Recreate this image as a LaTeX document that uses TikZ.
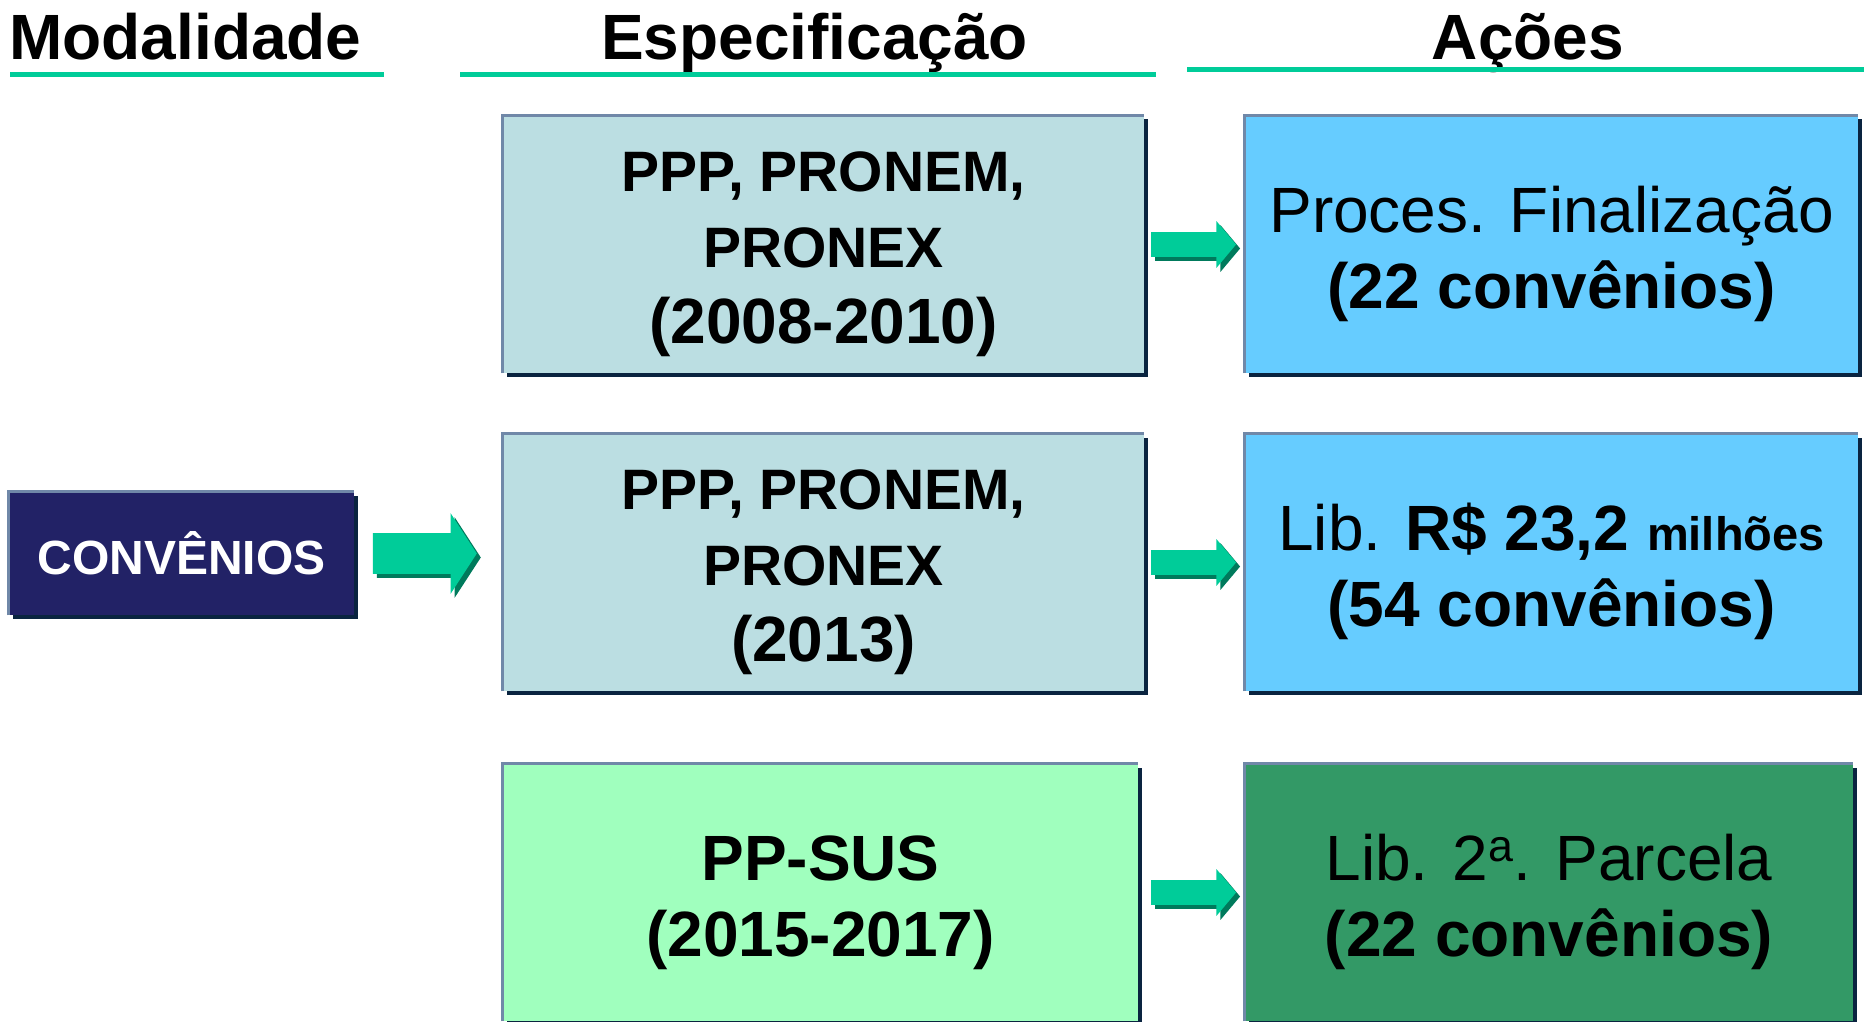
\documentclass[tikz,border=0pt]{standalone}
\usepackage{fontspec}
\setmainfont{Liberation Sans}
\usetikzlibrary{positioning,calc,shapes.arrows,shadows}

\definecolor{specblue}{RGB}{187,222,226}
\definecolor{actblue}{RGB}{102,204,255}
\definecolor{specgreen}{RGB}{160,255,190}
\definecolor{actgreen}{RGB}{51,153,102}
\definecolor{convnavy}{RGB}{34,34,102}
\definecolor{arrowgreen}{RGB}{0,204,153}
\definecolor{arrowshade}{RGB}{0,122,92}
\definecolor{edgegrey}{RGB}{112,136,168}
\definecolor{shadownavy}{RGB}{10,36,64}

\newcommand{\yearsize}{\fontsize{32}{38}\selectfont}

\tikzset{
  box/.style={rectangle, inner sep=0pt, minimum height=128.5pt,
    drop shadow={shadow xshift=1.75pt, shadow yshift=-1.75pt, fill=shadownavy, opacity=1}},
  edgeline/.style={draw=edgegrey, line width=1.5pt},
  heading/.style={font=\bfseries\fontsize{32}{38}\selectfont, inner sep=0pt},
  headrule/.style={draw=arrowgreen, line width=2.5pt},
  spectext/.style={font=\bfseries\fontsize{28.5}{38}\selectfont, align=center, inner sep=0pt},
  acttext/.style={font=\fontsize{32}{38}\selectfont, align=center, inner sep=0pt},
  blockarrow/.style={single arrow, fill=arrowgreen, inner xsep=0pt,
    drop shadow={shadow xshift=2pt, shadow yshift=-2pt, fill=arrowshade, opacity=1}},
  smallarrow/.style={blockarrow, anchor=tip, inner ysep=6pt, minimum height=42.5pt,
    minimum width=23pt, single arrow head extend=5.5pt, single arrow tip angle=100},
  bigarrow/.style={blockarrow, anchor=tail, inner ysep=10pt, minimum height=52pt,
    minimum width=40pt, single arrow head extend=10pt, single arrow tip angle=114}
}

\begin{document}
\begin{tikzpicture}[x=0.5pt,y=-0.5pt]
\useasboundingbox (0,0) rectangle (1864,1022);

% column headings
\node[heading, anchor=base west] (hmod) at (9,60) {Modalidade};
\node[heading, anchor=base] (hspec) at (814.5,60) {Especificação};
\node[heading, anchor=base] (hacoes) at (1528,60) {Ações};
\draw[headrule] (10,74.5) -- (384,74.5);
\draw[headrule] (460,74.5) -- (1156,74.5);
\draw[headrule] (1187,70) -- (1864,70);

% boxes
\node (conv) at (181.5,553.5) [box, fill=convnavy, minimum width=172.5pt, minimum height=61.5pt,
  text=white, font=\bfseries\fontsize{24}{28}\selectfont] {CONVÊNIOS};
\node (s1) at (823.5,244.5) [box, fill=specblue, minimum width=320.5pt] {};
\node (s2) at (823.5,562.5) [box, fill=specblue, minimum width=320.5pt] {};
\node (s3) at (820.5,892.5) [box, fill=specgreen, minimum width=317.5pt] {};
\node (a1) at (1551.5,244.5) [box, fill=actblue, minimum width=306.5pt] {};
\node (a2) at (1551.5,562.5) [box, fill=actblue, minimum width=306.5pt] {};
\node (a3) at (1549,892.5) [box, fill=actgreen, minimum width=304pt] {};

\draw[edgeline] (conv.south west) |- (conv.north east);
\draw[edgeline] (s1.south west) |- (s1.north east);
\draw[edgeline] (s2.south west) |- (s2.north east);
\draw[edgeline] (s3.south west) |- (s3.north east);
\draw[edgeline] (a1.south west) |- (a1.north east);
\draw[edgeline] (a2.south west) |- (a2.north east);
\draw[edgeline] (a3.south west) |- (a3.north east);

% texts
\node[spectext] (ts1) at ([yshift=-5pt]s1.center) {PPP, PRONEM,\\PRONEX\\{\yearsize(2008-2010)}};
\node[spectext] (ts2) at ([yshift=-5pt]s2.center) {PPP, PRONEM,\\PRONEX\\{\yearsize(2013)}};
\node[spectext] (ts3) at ([yshift=-5pt]s3.center) {{\yearsize PP-SUS}\\{\yearsize(2015-2017)}};
\node[acttext] (ta1) at ([yshift=-4.5pt]a1.center) {Proces. Finalização\\\textbf{(22 convênios)}};
\node[acttext] (ta2) at ([yshift=-4.5pt]a2.center)
  {Lib. \textbf{R\$ 23,2 {\fontsize{23.5}{38}\selectfont milhões}}\\\textbf{(54 convênios)}};
\node[acttext] (ta3) at ([yshift=-4.5pt]a3.center) {Lib. 2\textsuperscript{a}. Parcela\\\textbf{(22 convênios)}};

% arrows
\node[bigarrow] (arr0) at ([xshift=9pt]conv.east) {};
\node[smallarrow] (arr1) at ([xshift=-4pt]a1.west) {};
\node[smallarrow] (arr2) at ([xshift=-4pt]a2.west) {};
\node[smallarrow] (arr3) at ([xshift=-4pt]a3.west) {};

\end{tikzpicture}
\end{document}
